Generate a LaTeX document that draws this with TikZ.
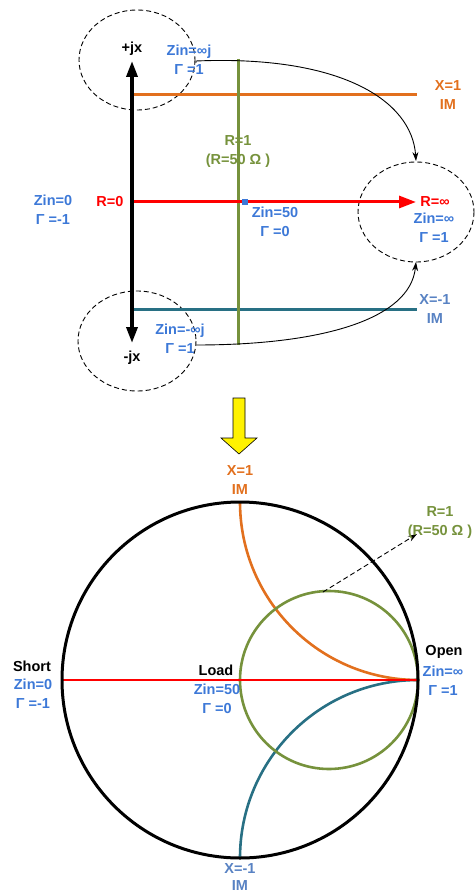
\documentclass[tikz,border=0pt]{standalone}
\usepackage{fontspec}
\setmainfont{Liberation Sans}
\usetikzlibrary{arrows.meta}
\definecolor{zblue}{RGB}{60,120,215}
\definecolor{mblue}{RGB}{88,130,195}
\definecolor{rgreen}{RGB}{118,146,60}
\definecolor{xorange}{RGB}{226,112,30}
\definecolor{xteal}{RGB}{40,112,132}
\definecolor{rred}{RGB}{255,0,0}
\tikzset{
  lbl/.style={font=\fontsize{14.5}{19}\selectfont\bfseries, align=center, inner sep=0pt},
  dashcirc/.style={draw=black, line width=0.9pt, dash pattern=on 5pt off 3pt},
  curvearrow/.style={draw=black, line width=0.9pt, -{Stealth[length=9pt,width=6pt]}},
}
\begin{document}
\begin{tikzpicture}[x=1pt,y=-1pt]
\useasboundingbox (0,0) rectangle (474,893);
% ---------- top part ----------
\draw[dashcirc] (137,60) ellipse [x radius=58, y radius=50];
\draw[dashcirc] (137,341) ellipse [x radius=59, y radius=50];
\draw[dashcirc] (416,212) ellipse [x radius=58, y radius=50];

\coordinate (oL) at (132,95);  \coordinate (oR) at (417,95);
\coordinate (tL) at (132,309); \coordinate (tR) at (417,309);
\coordinate (gT) at (238,59);  \coordinate (gB) at (238,345);
\coordinate (rL) at (132,202); \coordinate (rR) at (416,202);
\coordinate (axT) at (132,61); \coordinate (axB) at (132,343);

\draw[xorange, line width=3pt] (oL) -- (oR);
\draw[xteal, line width=3pt] (tL) -- (tR);
\draw[rgreen, line width=3pt] (gT) -- (gB);
\draw[rred, line width=3pt, -{Triangle[length=17pt,width=12pt]}] (rL) -- (rR);
\draw[black, line width=3.5pt, {Triangle[length=16pt,width=11pt]}-{Triangle[length=16pt,width=11pt]}] (axT) -- (axB);
\node[fill=zblue, minimum size=6pt, inner sep=0pt] (c50) at (245,202) {};

\coordinate (cs1) at (196,61); \coordinate (ce1) at (416,161);
\draw[curvearrow] (196,63) -- (cs1) .. controls (340,55) and (412,100) .. (ce1);
\coordinate (cs2) at (196,345); \coordinate (ce2) at (416,262);
\draw[curvearrow] (cs2) .. controls (320,345) and (410,320) .. (ce2);

\node[lbl, text=black] (pjx) at (132,49) {+jx};
\node[lbl, text=black] (mjx) at (132,358) {-jx};
\node[lbl, text=zblue] (zinfj) at (189,59.5) {Zin=∞j\\Γ =1};
\node[lbl, text=zblue] (zminfj) at (180,339) {Zin=-∞j\\Γ =1};
\node[lbl, text=xorange] (x1a) at (448,95) {X=1\\IM};
\node[lbl, text=mblue] (xm1a) at (435,309) {X=-1\\IM};
\node[lbl, text=rgreen] (r1a) at (238,152) {R=1\\(R=50 Ω )};
\node[lbl, text=rred] (r0) at (110,202) {R=0};
\node[lbl, text=rred] (rinf) at (435,202) {R=∞};
\node[lbl, text=zblue] (zin0a) at (53,209.5) {Zin=0\\Γ =-1};
\node[lbl, text=zblue] (zin50a) at (275,221.5) {Zin=50\\Γ =0};
\node[lbl, text=zblue] (zininfa) at (434,227.5) {Zin=∞\\Γ =1};

% ---------- yellow arrow ----------
\draw[fill=yellow, draw=black, line width=0.6pt]
  (233,398) -- (245,398) -- (245,438) -- (257,438) -- (239,454) -- (221,438) -- (233,438) -- cycle;

% ---------- Smith chart ----------
\coordinate (sc) at (240,680);
\coordinate (sL) at (62,680);
\coordinate (sR) at (418,680);
\draw[xorange, line width=2.6pt] (240,502) arc[start angle=180, end angle=90, radius=178];
\draw[xteal, line width=2.6pt] (240,858) arc[start angle=180, end angle=270, radius=178];
\draw[rgreen, line width=2.6pt] (329,680) circle[radius=89];
\draw[rred, line width=2.8pt] (sL) -- (sR);
\draw[black, line width=3pt] (sc) circle[radius=178];

\coordinate (dS) at (323,592); \coordinate (dE) at (417,534);
\draw[black, line width=0.9pt, dash pattern=on 5pt off 3pt, -{Stealth[length=9pt,width=6pt]}] (dS) -- (dE);

\node[lbl, text=rgreen] (r1b) at (440,523) {R=1\\(R=50 Ω )};
\node[lbl, text=xorange] (x1b) at (240,480) {X=1\\IM};
\node[lbl, text=mblue, font=\fontsize{14.5}{17}\selectfont\bfseries] (xm1b) at (240,877) {X=-1\\IM};
\node[lbl, text=black] (short) at (32,666) {Short};
\node[lbl, text=zblue] (zin0b) at (33,693.5) {Zin=0\\Γ =-1};
\node[lbl, text=black] (load) at (216,670) {Load};
\node[lbl, text=zblue] (zin50b) at (217,699) {Zin=50\\Γ =0};
\node[lbl, text=black] (open) at (444,652) {Open};
\node[lbl, text=zblue] (zininfb) at (443,681) {Zin=∞\\Γ =1};
\end{tikzpicture}
\end{document}
